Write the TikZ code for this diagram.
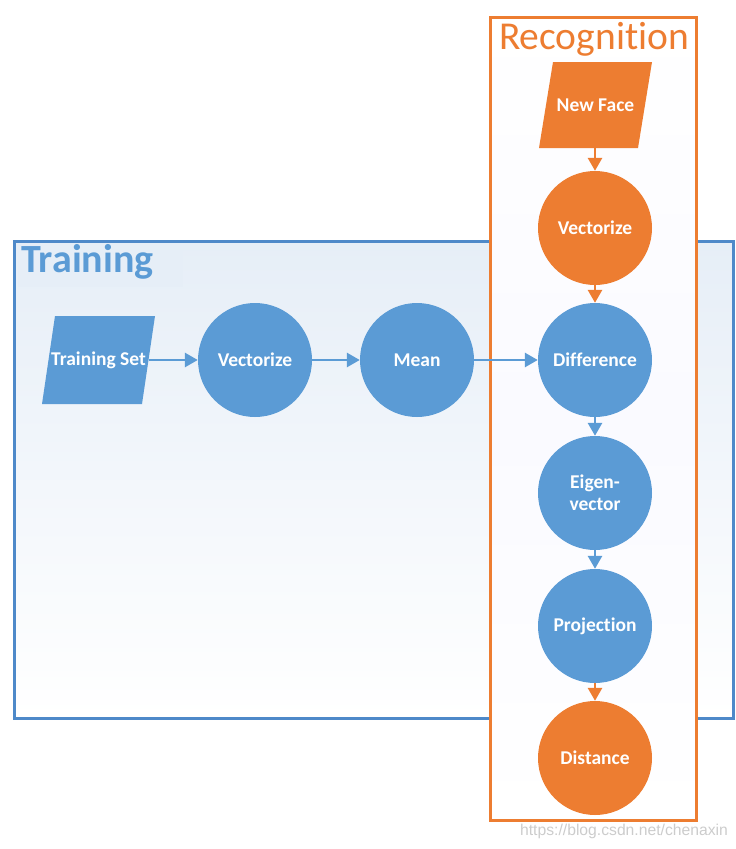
\documentclass[tikz,border=0pt]{standalone}
\usepackage{fontspec}
\setmainfont[Ligatures=NoCommon]{Carlito}
\newfontfamily\wmfont{Liberation Sans}
\usetikzlibrary{shapes.geometric,arrows.meta}
\definecolor{bl}{HTML}{5B9BD5}
\definecolor{blline}{HTML}{4E89C9}
\definecolor{orn}{HTML}{ED7D31}
\definecolor{tbg}{HTML}{E6EEF7}
\begin{document}
\begin{tikzpicture}[x=1pt,y=-1pt,
  lbl/.style={inner sep=0pt, text=white, font=\bfseries\fontsize{19.5}{22}\selectfont, align=center},
  circ/.style={lbl, circle, minimum size=114pt},
  bcirc/.style={circ, fill=bl},
  ocirc/.style={circ, fill=orn},
  barrow/.style={draw=bl, line width=2.8pt, -{Triangle[length=13pt,width=14pt]}},
  oarrow/.style={draw=orn, line width=2.8pt, -{Triangle[length=13pt,width=14pt]}},
  ]
\useasboundingbox (0,0) rectangle (736,849);
% Training box
\shade[top color=tbg, bottom color=white] (14,241) rectangle (733,718);
\draw[blline, line width=3pt] (14,241) rectangle (733,718);
\fill[tbg] (18,246) rectangle (183,287);
\node[text=bl, font=\bfseries\fontsize{40}{44}\selectfont, anchor=west, inner sep=0pt] (ttitle) at (21,262) {Training};
% Recognition box
\shade[top color=white, bottom color=white, middle color=blue!2] (490,17) rectangle (696,820);
\draw[orn, line width=3pt] (490,17) rectangle (696,820);
\node[text=orn, font=\fontsize{39.5}{42}\selectfont, inner sep=0pt] (rtitle) at (594,39) {Recognition};
% parallelograms
\fill[bl] (55,316) -- (155,316) -- (142,404) -- (42,404) -- cycle;
\node[lbl] (tset) at (98.5,360) {Training Set};
\coordinate (tsetR) at (148.5,360);
\fill[orn] (553,62) -- (652,62) -- (638,148) -- (539,148) -- cycle;
\node[lbl] (nface) at (595.5,105) {New Face};
\coordinate (nfaceB) at (595,148);
% circles
\node[bcirc] (vec1) at (255,360) {Vectorize};
\node[bcirc] (mean) at (417,360) {Mean};
\node[ocirc] (vec2) at (595,228) {Vectorize};
\node[bcirc] (diff) at (595,360) {Difference};
\node[bcirc] (eig) at (595,493) {Eigen-\\vector};
\node[bcirc] (proj) at (595,626) {Projection};
\node[ocirc] (dist) at (595,758) {Distance};
% arrows
\draw[barrow] (tsetR) -- (vec1.west);
\draw[barrow] (vec1.east) -- (mean.west);
\draw[barrow] (mean.east) -- (diff.west);
\draw[oarrow] (nfaceB) -- (vec2.north);
\draw[oarrow] (vec2.south) -- (diff.north);
\draw[barrow] (diff.south) -- (eig.north);
\draw[barrow] (eig.south) -- (proj.north);
\draw[oarrow] (proj.south) -- (dist.north);
% watermark
\node[text=black!20, font=\wmfont\fontsize{15.7}{17}\selectfont, inner sep=0pt] (wm) at (624,831) {https://blog.csdn.net/chenaxin};
\end{tikzpicture}
\end{document}
